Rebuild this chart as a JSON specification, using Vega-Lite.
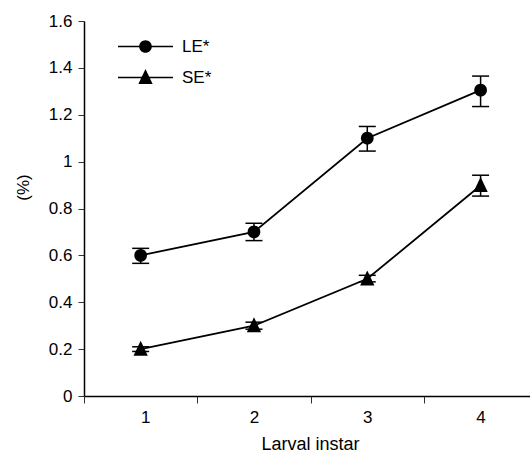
{
  "$schema": "https://vega.github.io/schema/vega-lite/v6.json",
  "autosize": {"type": "none"},
  "padding": {"left": 84, "top": 21, "right": 0, "bottom": 58},
  "width": 446,
  "height": 375,
  "config": {
    "view": {"stroke": null},
    "font": "Liberation Sans",
    "axis": {"labelFont": "Liberation Sans", "titleFont": "Liberation Sans", "labelColor": "black", "titleColor": "black", "titleFontWeight": "normal", "domainColor": "black", "domainWidth": 1.5, "tickColor": "#333", "tickWidth": 1, "grid": false},
    "legend": {"labelFont": "Liberation Sans"}
  },
  "data": {"values": [
    {"instar": 1, "series": "LE*", "value": 0.6, "lo": 0.566, "hi": 0.63},
    {"instar": 2, "series": "LE*", "value": 0.7, "lo": 0.663, "hi": 0.737},
    {"instar": 3, "series": "LE*", "value": 1.1, "lo": 1.045, "hi": 1.15},
    {"instar": 4, "series": "LE*", "value": 1.305, "lo": 1.235, "hi": 1.365},
    {"instar": 1, "series": "SE*", "value": 0.2, "lo": 0.19, "hi": 0.21},
    {"instar": 2, "series": "SE*", "value": 0.3, "lo": 0.285, "hi": 0.315},
    {"instar": 3, "series": "SE*", "value": 0.5, "lo": 0.487, "hi": 0.515},
    {"instar": 4, "series": "SE*", "value": 0.898, "lo": 0.853, "hi": 0.942}
  ]},
  "encoding": {
    "x": {"field": "instar", "type": "quantitative",
      "scale": {"domain": [0.5, 4.436], "nice": false, "zero": false},
      "axis": {"title": "Larval instar", "values": [0.5, 1.5, 2.5, 3.5], "labelExpr": "datum.value + 0.5", "labelOffset": 56.6, "tickSize": 7, "labelPadding": 6, "labelFontSize": 17, "titleFontSize": 18, "titleX": 226, "titleY": 53, "titleBaseline": "alphabetic", "titleAnchor": null, "titleAlign": "center"}},
    "y": {"field": "value", "type": "quantitative",
      "scale": {"domain": [0, 1.6], "nice": false},
      "axis": {"title": "(%)", "values": [0, 0.2, 0.4, 0.6, 0.8, 1, 1.2, 1.4, 1.6], "format": "~g", "tickSize": 6, "labelPadding": 6, "labelFontSize": 17, "titleFontSize": 17, "titleX": -61, "titleY": 166, "titleAngle": -90, "titleAlign": "center", "titleBaseline": "middle", "titleAnchor": null}}
  },
  "layer": [
    {"mark": {"type": "rule", "color": "black", "strokeWidth": 1.5}, "encoding": {"x": {"value": 0}, "x2": {"value": 446}, "y": {"datum": 1.6}}, "data": {"values": [{}]}},
    {"mark": {"type": "line", "color": "black", "strokeWidth": 1.8}, "encoding": {"detail": {"field": "series"}}},
    {"mark": {"type": "rule", "color": "black", "strokeWidth": 1.5}, "encoding": {"y": {"field": "lo"}, "y2": {"field": "hi"}}},
    {"mark": {"type": "tick", "orient": "horizontal", "color": "black", "size": 17, "thickness": 1.5, "opacity": 1}, "encoding": {"y": {"field": "lo"}}},
    {"mark": {"type": "tick", "orient": "horizontal", "color": "black", "size": 17, "thickness": 1.5, "opacity": 1}, "encoding": {"y": {"field": "hi"}}},
    {"mark": {"type": "point", "filled": true, "color": "black", "opacity": 1, "size": 160, "strokeWidth": 0},
      "encoding": {"shape": {"field": "series", "type": "nominal", "legend": null,
        "scale": {"domain": ["LE*", "SE*"], "range": ["M-1,0A1,1,0,1,1,1,0A1,1,0,1,1,-1,0Z", "M0,-1.33L1.13,1.04L-1.13,1.04Z"]}}}},
    {"mark": {"type": "point", "filled": true, "color": "black", "opacity": 0, "size": 160, "strokeWidth": 0},
      "encoding": {"shape": {"field": "series", "type": "nominal",
        "scale": {"domain": ["LE*", "SE*"], "range": [
          "M-1,0A1,1,0,1,1,1,0A1,1,0,1,1,-1,0ZM-4.35,-0.12L-0.95,-0.12L-0.95,0.12L-4.35,0.12ZM0.95,-0.12L4.35,-0.12L4.35,0.12L0.95,0.12Z",
          "M0,-1.33L1.13,1.04L-1.13,1.04ZM-4.35,-0.12L-0.55,-0.12L-0.55,0.12L-4.35,0.12ZM0.55,-0.12L4.35,-0.12L4.35,0.12L0.55,0.12Z"]},
        "legend": {"title": null, "orient": "none", "legendX": 53, "legendY": 17, "padding": 0, "labelFontSize": 17, "labelOffset": 28, "rowPadding": 13, "symbolSize": 160, "symbolFillColor": "black", "symbolStrokeWidth": 0, "symbolOpacity": 1, "labelColor": "black"}}}}
  ],
  "resolve": {"scale": {"shape": "independent"}}
}
